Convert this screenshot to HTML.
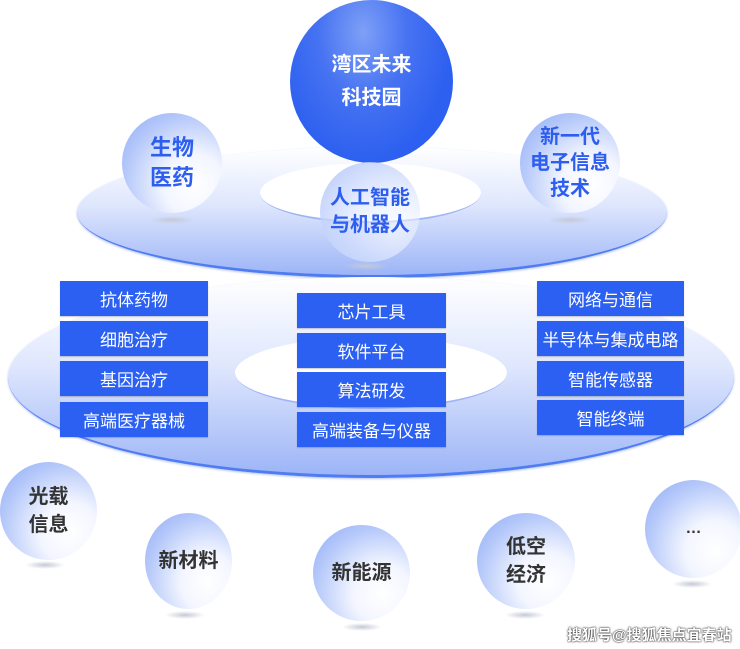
<!DOCTYPE html>
<html><head><meta charset="utf-8"><style>
body{margin:0;width:740px;height:649px;background:#fff;position:relative;overflow:hidden;font-family:"Liberation Sans","Noto Sans CJK SC",sans-serif}
div{position:absolute;box-sizing:border-box}
.disc{border-radius:50%;background:linear-gradient(180deg,#ffffff 0%,#dfe7fd 45%,#9db5f7 100%);border-bottom:3px solid #4f7cf2;box-shadow:0 1px 2px rgba(60,100,230,.4)}
.hole{border-radius:50%;background:#fff;border-bottom:2px solid #9fb4f5}
.b{border-radius:50%;background:radial-gradient(ellipse at 72% 72%,#ffffff 0%,#f3f6ff 30%,#b5c8fa 68%,#8eaaf5 100%);display:flex;align-items:center;justify-content:center;text-align:center;font-weight:bold;font-size:20px;line-height:28px}
.top{color:#2d5ef0}
.bot{color:#333}
.sh{border-radius:50%;background:radial-gradient(ellipse,#c4c9d6 0%,rgba(220,225,235,0) 70%);height:8px;width:46px}
.box{background:#2b60f2;color:#fff;font-size:17px;display:flex;align-items:center;justify-content:center;white-space:nowrap;box-shadow:0 1px 1px rgba(0,0,0,.2)}
</style></head><body>
<div class="disc" style="left:77px;top:147px;width:590px;height:131px"></div>
<div class="hole" style="left:260px;top:163px;width:221px;height:60px"></div>
<div class="disc" style="left:8px;top:277px;width:726px;height:201px"></div>
<div class="hole" style="left:235px;top:337px;width:272px;height:72px"></div>

<div class="b" style="left:290px;top:0;width:163px;height:163px;background:radial-gradient(ellipse at 45% 20%,#7ea0f7 0%,#4773f2 35%,#2d60f0 70%,#2e62f0 100%);color:#fff;font-size:20px;line-height:33px">湾区未来<br>科技园</div>

<div class="b top" style="left:122px;top:113px;width:100px;height:100px;font-size:22px;line-height:30px">生物<br>医药</div>
<div class="sh" style="left:149px;top:216px"></div>
<div class="b top" style="left:520px;top:113px;width:100px;height:100px;font-size:20px;line-height:26px">新一代<br>电子信息<br>技术</div>
<div class="sh" style="left:547px;top:216px"></div>
<div class="b top" style="left:320px;top:162px;width:100px;height:100px;font-size:20px;line-height:27px;background:radial-gradient(ellipse at 75% 70%,rgba(255,255,255,.6) 0%,rgba(220,230,255,.6) 40%,#b3c6fa 100%)">人工智能<br>与机器人</div>
<div class="sh" style="left:343px;top:262px"></div>

<div class="box" style="left:60px;top:281px;width:148px;height:35px">抗体药物</div>
<div class="box" style="left:60px;top:321px;width:148px;height:35px">细胞治疗</div>
<div class="box" style="left:60px;top:361px;width:148px;height:35px">基因治疗</div>
<div class="box" style="left:60px;top:402px;width:148px;height:35px">高端医疗器械</div>
<div class="box" style="left:297px;top:293px;width:149px;height:35px">芯片工具</div>
<div class="box" style="left:297px;top:333px;width:149px;height:35px">软件平台</div>
<div class="box" style="left:297px;top:372px;width:149px;height:35px">算法研发</div>
<div class="box" style="left:297px;top:412px;width:149px;height:35px">高端装备与仪器</div>
<div class="box" style="left:537px;top:281px;width:147px;height:35px">网络与通信</div>
<div class="box" style="left:537px;top:321px;width:147px;height:35px">半导体与集成电路</div>
<div class="box" style="left:537px;top:361px;width:147px;height:35px">智能传感器</div>
<div class="box" style="left:537px;top:400px;width:147px;height:35px">智能终端</div>

<div class="b bot" style="left:0;top:462px;width:97px;height:98px">光载<br>信息</div>
<div class="sh" style="left:25px;top:561px;width:40px"></div>
<div class="b bot" style="left:145px;top:513px;width:87px;height:96px">新材料</div>
<div class="sh" style="left:165px;top:611px;width:40px"></div>
<div class="b bot" style="left:313px;top:525px;width:97px;height:96px">新能源</div>
<div class="sh" style="left:342px;top:623px;width:40px"></div>
<div class="b bot" style="left:477px;top:513px;width:98px;height:96px">低空<br>经济</div>
<div class="sh" style="left:505px;top:611px;width:40px"></div>
<div class="b bot" style="left:645px;top:480px;width:97px;height:98px;font-size:16px">…</div>
<div class="sh" style="left:672px;top:580px;width:40px"></div>

<div style="left:567px;top:624px;font-size:15px;font-weight:bold;color:#fff;text-shadow:0 0 2px #333,0 0 1px #000;white-space:nowrap">搜狐号@搜狐焦点宜春站</div>
</body></html>
